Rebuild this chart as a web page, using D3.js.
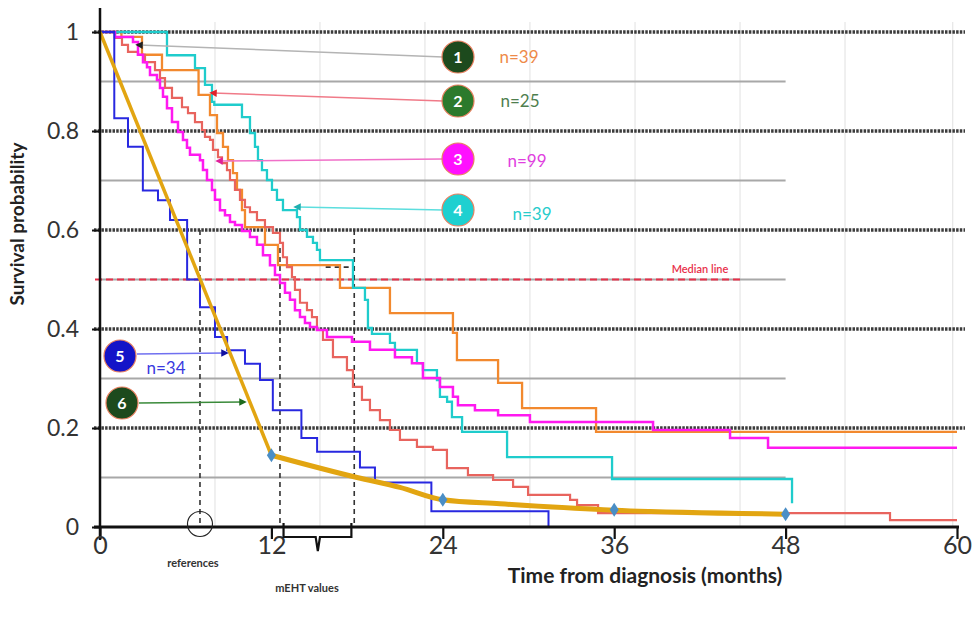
<!DOCTYPE html>
<html><head><meta charset="utf-8">
<script src="https://cdn.jsdelivr.net/npm/d3@7"></script>
<style>body{margin:0;background:#fff}svg{display:block}</style>
</head><body>
<svg id="c" width="974" height="617"></svg>
<script>
// ---------- DATA ----------
const xTicks = [0, 12, 24, 36, 48, 60];
const yTicks = [0, 0.2, 0.4, 0.6, 0.8, 1];
const yTickLabels = ["0", "0.2", "0.4", "0.6", "0.8", "1"];
const minorLevels = [0.1, 0.3, 0.5, 0.7, 0.9];
const faintGridMonths = [8.05, 15.4, 22.75, 30.1, 37.46, 44.81, 52.16, 59.7];
const medianLevel = 0.5;

// step curves: [time of drop (months), survival after drop]
const curve1Orange = [[0,1],[1.5,0.99],[2.94,0.954],[4.34,0.923],[6.9,0.873],[7.7,0.832],[8.19,0.796],[8.61,0.768],[8.96,0.741],[9.31,0.715],[9.59,0.681],[9.94,0.64],[10.15,0.606],[11.55,0.57],[12.46,0.529],[16.8,0.483],[20.3,0.432],[24.71,0.392],[24.99,0.337],[27.87,0.291],[29.55,0.24],[34.73,0.192],[60,0.192]];
const curve2Salmon = [[0,1],[1.05,0.988],[1.54,0.974],[1.96,0.96],[2.66,0.954],[3.15,0.939],[3.85,0.923],[4.2,0.907],[4.55,0.887],[5.04,0.867],[5.74,0.848],[6.16,0.836],[6.65,0.818],[7.14,0.802],[7.35,0.788],[7.7,0.782],[7.91,0.762],[8.26,0.747],[8.54,0.735],[8.89,0.721],[9.1,0.701],[9.45,0.681],[9.8,0.661],[10.15,0.646],[10.5,0.636],[10.99,0.62],[11.55,0.606],[12.11,0.594],[12.6,0.574],[12.81,0.545],[13.09,0.525],[13.44,0.505],[13.65,0.479],[14.0,0.453],[14.49,0.438],[14.84,0.424],[15.19,0.398],[15.61,0.378],[16.31,0.343],[17.29,0.317],[17.71,0.283],[18.34,0.257],[18.9,0.236],[19.6,0.216],[20.3,0.196],[21.0,0.176],[22.19,0.162],[23.31,0.156],[24.29,0.119],[25.76,0.105],[27.52,0.095],[28.92,0.081],[29.97,0.065],[32.91,0.055],[33.4,0.044],[34.87,0.028],[55.31,0.014],[60,0.014]];
const curve3Magenta = [[0,1],[1.05,0.99],[2.31,0.98],[2.66,0.954],[3.01,0.939],[3.29,0.929],[3.5,0.913],[3.99,0.903],[4.2,0.887],[4.41,0.869],[4.69,0.846],[5.04,0.818],[5.46,0.798],[5.81,0.782],[6.09,0.766],[6.3,0.752],[7.0,0.741],[7.21,0.721],[7.49,0.701],[7.84,0.681],[8.05,0.661],[8.4,0.64],[8.75,0.63],[9.1,0.616],[9.45,0.61],[9.94,0.598],[10.5,0.586],[10.99,0.57],[11.41,0.549],[11.9,0.529],[12.25,0.509],[12.6,0.493],[12.95,0.473],[13.3,0.459],[13.65,0.438],[14.0,0.424],[14.35,0.412],[14.7,0.404],[15.19,0.398],[15.89,0.384],[17.64,0.374],[18.9,0.358],[20.65,0.343],[21.84,0.331],[22.61,0.301],[23.8,0.283],[24.71,0.263],[25.06,0.246],[26.25,0.236],[27.87,0.226],[30.1,0.212],[38.72,0.196],[44.11,0.18],[46.77,0.16],[60,0.16]];
const curve4Cyan = [[0,1],[4.69,0.953],[6.65,0.927],[7.35,0.893],[7.84,0.859],[8.0,0.853],[9.94,0.828],[10.5,0.796],[10.85,0.768],[11.06,0.741],[11.34,0.721],[11.69,0.701],[12.04,0.681],[12.39,0.661],[12.81,0.64],[13.79,0.626],[14.0,0.6],[14.49,0.586],[14.91,0.574],[15.19,0.56],[15.4,0.539],[17.71,0.483],[18.55,0.459],[18.76,0.402],[19.04,0.39],[20.3,0.372],[20.65,0.358],[22.19,0.331],[22.61,0.317],[23.59,0.297],[23.8,0.263],[24.3,0.253],[24.64,0.222],[25.35,0.192],[28.5,0.141],[35.85,0.097],[48.45,0.048]];
const curve5Blue = [[0,1],[1.0,0.826],[1.96,0.768],[3.0,0.68],[4.06,0.66],[4.9,0.62],[6.1,0.5],[7.0,0.444],[8.05,0.384],[8.9,0.357],[10.15,0.33],[11.2,0.297],[12.1,0.236],[14.1,0.18],[15.2,0.152],[18.2,0.12],[19.25,0.09],[23.2,0.032],[31.4,0]];
const curve6Ref = [[0,1],[12,0.145]];
const curve6RefTail = [[12,0.145],[18,0.1],[21,0.08],[24,0.055],[28,0.047],[36,0.034],[48,0.026]];
const diamondMonths = [12, 24, 36, 48];
const diamondValues = [0.145, 0.055, 0.035, 0.026];

const groupIds = ["1", "2", "3", "4", "5", "6"];
const groupN = ["n=39", "n=25", "n=99", "n=39", "n=34", null];

// ---------- LAYOUT ----------
const svg = d3.select("#c");
const x = d3.scaleLinear().domain([0, 60]).range([100, 957]);
const y = d3.scaleLinear().domain([0, 1]).range([527, 32]);
const F = "Lato, 'Open Sans', sans-serif";

// faint vertical grid
svg.append("g").selectAll("line").data(faintGridMonths).join("line")
  .attr("x1", d => x(d)).attr("x2", d => x(d)).attr("y1", 22).attr("y2", 527)
  .attr("stroke", "#e6e6e6").attr("stroke-width", 1.2);

// gray minor levels (to 48 months)
svg.append("g").selectAll("line").data(minorLevels).join("line")
  .attr("x1", x(0)).attr("x2", x(48)).attr("y1", d => y(d)).attr("y2", d => y(d))
  .attr("stroke", "#a8a8a8").attr("stroke-width", 2);

// thick dotted major levels
svg.append("g").selectAll("line").data(yTicks.filter(d => d > 0)).join("line")
  .attr("x1", x(0) - 6).attr("x2", x(60) + 8).attr("y1", d => y(d)).attr("y2", d => y(d))
  .attr("stroke", "#3c3c3c").attr("stroke-width", 3.5).attr("stroke-dasharray", "2.5,1.2");

// median line
svg.append("line").attr("x1", x(0) - 5).attr("x2", 740).attr("y1", y(medianLevel)).attr("y2", y(medianLevel))
  .attr("stroke", "#e8304a").attr("stroke-width", 2).attr("stroke-dasharray", "7,4");
svg.append("text").attr("x", 700).attr("y", y(medianLevel) - 7).attr("text-anchor", "middle")
  .attr("font-family", F).attr("font-weight", 600).attr("font-size", 11).attr("fill", "#e8304a").text("Median line");

// dashed reference lines (references / mEHT)
const dash = svg.append("g").attr("stroke", "#333").attr("stroke-width", 1.6).attr("stroke-dasharray", "5,4").attr("fill", "none");
dash.append("line").attr("x1", x(7)).attr("x2", x(7)).attr("y1", y(0.6)).attr("y2", y(0));
dash.append("line").attr("x1", x(12.6)).attr("x2", x(12.6)).attr("y1", y(0.6)).attr("y2", y(0));
dash.append("line").attr("x1", x(17.8)).attr("x2", x(17.8)).attr("y1", y(0.6)).attr("y2", y(0));
dash.append("line").attr("x1", x(15.8)).attr("x2", x(17.8)).attr("y1", y(0.525)).attr("y2", y(0.525));

// curves
const step = d3.line().x(d => x(d[0])).y(d => y(d[1])).curve(d3.curveStepAfter);
const curves = [
  [curve1Orange, "#f2892e", 2.3],
  [curve2Salmon, "#e8645e", 2.2],
  [curve4Cyan, "#1fcccc", 2.3],
  [curve3Magenta, "#ff19f0", 2.5],
  [curve5Blue, "#2828e0", 2],
];
curves.forEach(([data, col, w]) => {
  svg.append("path").attr("d", step(data)).attr("fill", "none").attr("stroke", col).attr("stroke-width", w);
});
// reference curve 6
svg.append("path").attr("d", d3.line().x(d => x(d[0])).y(d => y(d[1]))(curve6Ref))
  .attr("fill", "none").attr("stroke", "#e2a511").attr("stroke-width", 3.5);
svg.append("path").attr("d", d3.line().x(d => x(d[0])).y(d => y(d[1])).curve(d3.curveMonotoneX)(curve6RefTail))
  .attr("fill", "none").attr("stroke", "#e2a511").attr("stroke-width", 5).attr("stroke-linecap", "round");
svg.append("g").selectAll("path").data(diamondMonths).join("path")
  .attr("transform", (d, i) => `translate(${x(d)},${y(diamondValues[i])})`)
  .attr("d", "M0,-7 L4.5,0 L0,7 L-4.5,0 Z").attr("fill", "#4a8ec6");

// axes
const yAxis = d3.axisLeft(y).tickValues(yTicks).tickFormat((d, i) => yTickLabels[i]).tickSize(8).tickPadding(13);
const gy = svg.append("g").attr("transform", `translate(${x(0)},0)`).call(yAxis);
gy.select(".domain").remove();
gy.selectAll(".tick line").attr("stroke", "#111").attr("stroke-width", 2);
gy.selectAll(".tick text").attr("font-family", F).attr("font-size", 23).attr("fill", "#333");
svg.append("line").attr("x1", x(0)).attr("x2", x(0)).attr("y1", 8).attr("y2", 540).attr("stroke", "#111").attr("stroke-width", 2.5);

const xAxis = d3.axisBottom(x).tickValues(xTicks).tickSize(12).tickPadding(0);
const gx = svg.append("g").attr("transform", `translate(0,${y(0)})`).call(xAxis);
gx.select(".domain").remove();
gx.selectAll(".tick line").attr("stroke", "#111").attr("stroke-width", 2.2);
gx.selectAll(".tick text").attr("y", 9).attr("font-family", F).attr("font-size", 25).attr("fill", "#333");
svg.append("line").attr("x1", x(0) - 6).attr("x2", x(60) + 2).attr("y1", y(0)).attr("y2", y(0)).attr("stroke", "#111").attr("stroke-width", 2.8);

// axis titles
svg.append("text").attr("transform", "translate(24,224) rotate(-90)").attr("text-anchor", "middle")
  .attr("font-family", F).attr("font-weight", 700).attr("font-size", 19).attr("fill", "#222").text("Survival probability");
svg.append("text").attr("x", 645).attr("y", 583).attr("text-anchor", "middle")
  .attr("font-family", F).attr("font-weight", 700).attr("font-size", 21).attr("fill", "#222").text("Time from diagnosis (months)");

// references / mEHT annotations
svg.append("circle").attr("cx", x(7)).attr("cy", 524).attr("r", 12.5).attr("fill", "none").attr("stroke", "#222").attr("stroke-width", 1.2);
svg.append("text").attr("x", 193).attr("y", 567).attr("text-anchor", "middle").attr("font-family", F)
  .attr("font-weight", 700).attr("font-size", 11).attr("fill", "#333").text("references");
svg.append("text").attr("x", 307).attr("y", 592).attr("text-anchor", "middle").attr("font-family", F)
  .attr("font-weight", 700).attr("font-size", 11).attr("fill", "#333").text("mEHT values");
svg.append("path").attr("d", `M${x(12.85)},523 L${x(12.85)},537 L${x(15.1)},537 L${x(15.25)},551 L${x(15.4)},537 L${x(17.6)},537 L${x(17.6)},523`)
  .attr("fill", "none").attr("stroke", "#111").attr("stroke-width", 2.2);

// group labels with pointer arrows
const defs = svg.append("defs");
function marker(id, col) {
  defs.append("marker").attr("id", id).attr("viewBox", "0 0 10 10").attr("refX", 5).attr("refY", 5)
    .attr("markerWidth", 5).attr("markerHeight", 5).attr("orient", "auto")
    .append("path").attr("d", "M0,0 L10,5 L0,10 Z").attr("fill", col);
}
const labels = [
  {cx: 458, cy: 57, fill: "#1d4a1d", lx: 519, ly: 57, lc: "#ee8a48", from: [443, 57], to: [139, 45], ac: "#b4b4b4", mc: "#222"},
  {cx: 458, cy: 101, fill: "#2c7a2c", lx: 520, ly: 101, lc: "#4e7e4e", from: [443, 101], to: [213, 93], ac: "#f07a88", mc: "#e0202a"},
  {cx: 458, cy: 159, fill: "#ff10ff", lx: 527, ly: 161, lc: "#e040e0", from: [443, 159], to: [219, 161], ac: "#f070c8", mc: "#e0209a"},
  {cx: 458, cy: 210, fill: "#1ed0d0", lx: 532, ly: 214, lc: "#28cccc", from: [443, 210], to: [297, 207], ac: "#5cdede", mc: "#20b0b0"},
  {cx: 120, cy: 356, fill: "#1414c8", lx: 166, ly: 368, lc: "#3a3ae0", from: [137, 354], to: [225, 353], ac: "#7070f0", mc: "#1010a0"},
  {cx: 122, cy: 403, fill: "#1d4a1d", lx: null, ly: null, lc: null, from: [139, 403], to: [243, 402], ac: "#3a8a3a", mc: "#1d6a1d"},
];
labels.forEach((L, i) => {
  marker("m" + i, L.mc);
  svg.append("line").attr("x1", L.from[0]).attr("y1", L.from[1]).attr("x2", L.to[0]).attr("y2", L.to[1])
    .attr("stroke", L.ac).attr("stroke-width", 1.5).attr("marker-end", `url(#m${i})`);
  svg.append("circle").attr("cx", L.cx).attr("cy", L.cy).attr("r", 16).attr("fill", L.fill)
    .attr("stroke", "#e88060").attr("stroke-width", 1.2);
  svg.append("text").attr("x", L.cx).attr("y", L.cy + 6).attr("text-anchor", "middle").attr("font-family", F)
    .attr("font-weight", 700).attr("font-size", 16).attr("fill", "#fff").text(groupIds[i]);
  if (groupN[i]) {
    svg.append("text").attr("x", L.lx).attr("y", L.ly + 6).attr("text-anchor", "middle").attr("font-family", F)
      .attr("font-size", 17).attr("fill", L.lc).text(groupN[i]);
  }
});
</script>
</body></html>
